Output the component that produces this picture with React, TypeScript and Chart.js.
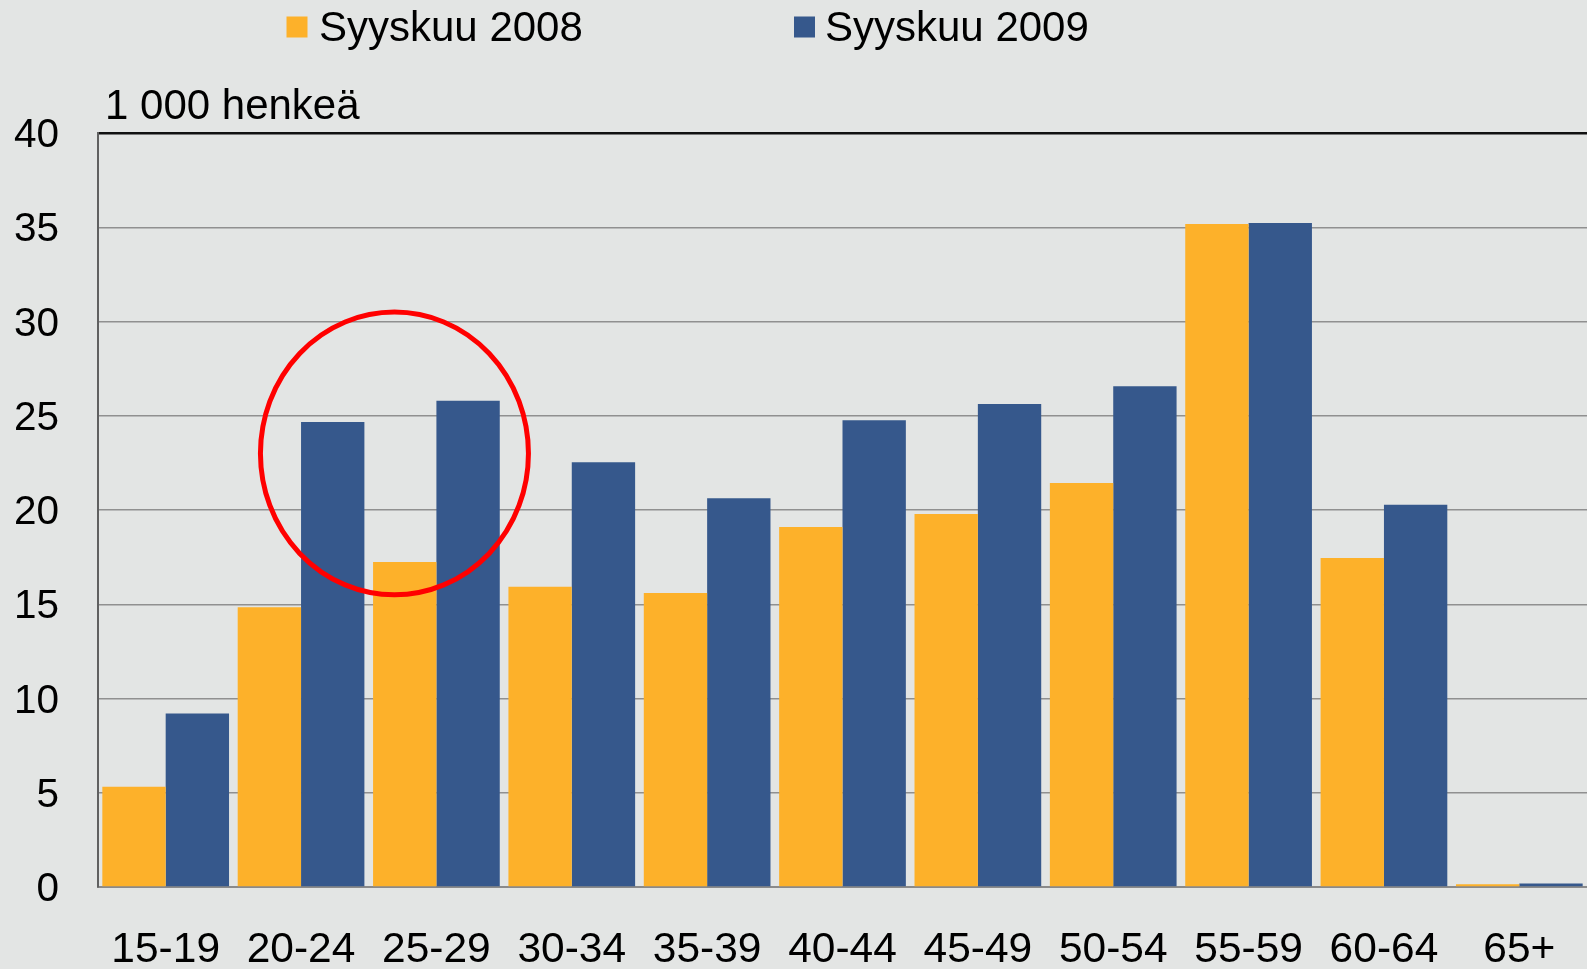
import React, { useEffect, useRef } from "react";
import { Chart, registerables } from "chart.js";

Chart.register(...registerables);

const categories = ["15-19", "20-24", "25-29", "30-34", "35-39", "40-44", "45-49", "50-54", "55-59", "60-64", "65+"];
const series2008 = [5.32, 14.84, 17.24, 15.93, 15.6, 19.1, 19.79, 21.43, 35.17, 17.45, 0.15];
const series2009 = [9.21, 24.67, 25.8, 22.53, 20.62, 24.76, 25.62, 26.56, 35.23, 20.28, 0.18];
const seriesLabels = ["Syyskuu 2008", "Syyskuu 2009"];
const seriesColors = ["#FDB12A", "#36588C"];
const yMin = 0;
const yMax = 40;
const yStep = 5;
const yAxisTitle = "1 000 henkeä";
// highlight ellipse, in data units (category index, value)
const highlightCenterX = 1.69;
const highlightCenterY = 23.0;
const highlightRadiusX = 0.99;
const highlightRadiusY = 7.5;

const FONT = "'Liberation Sans', Arial, sans-serif";

const overlayPlugin = {
  id: "overlay",
  afterDatasetsDraw(chart: any) {
    const ctx = chart.ctx;
    const xs = chart.scales.x;
    const ys = chart.scales.y;
    const cx = xs.getPixelForValue(highlightCenterX);
    const cy = ys.getPixelForValue(highlightCenterY);
    const rx = Math.abs(xs.getPixelForValue(highlightCenterX + highlightRadiusX) - cx);
    const ry = Math.abs(ys.getPixelForValue(highlightCenterY + highlightRadiusY) - cy);
    ctx.save();
    ctx.beginPath();
    ctx.ellipse(cx, cy, rx, ry, 0, 0, Math.PI * 2);
    ctx.strokeStyle = "#FF0000";
    ctx.lineWidth = 5;
    ctx.stroke();
    ctx.restore();
  },
  afterDraw(chart: any) {
    const ctx = chart.ctx;
    ctx.save();
    // legend
    const legendBoxX = [286.5, 794];
    const legendTextX = [319, 825];
    chart.data.datasets.forEach((ds: any, i: number) => {
      ctx.fillStyle = ds.backgroundColor;
      ctx.fillRect(legendBoxX[i], 16.5, 21, 21);
      ctx.fillStyle = "#000";
      ctx.font = `42px ${FONT}`;
      ctx.textBaseline = "alphabetic";
      ctx.textAlign = "left";
      ctx.fillText(ds.label, legendTextX[i], 40.5);
    });
    // y-axis unit title
    ctx.font = `42px ${FONT}`;
    ctx.fillStyle = "#000";
    ctx.textAlign = "left";
    ctx.textBaseline = "alphabetic";
    ctx.fillText(yAxisTitle, 105, 119);
    ctx.restore();
  },
};

export default function App() {
  const canvasRef = useRef<HTMLCanvasElement | null>(null);

  useEffect(() => {
    document.body.style.margin = "0";
    const canvas = canvasRef.current;
    if (!canvas) return;
    const chart = new Chart(canvas, {
      type: "bar",
      data: {
        labels: categories,
        datasets: [
          {
            label: seriesLabels[0],
            data: series2008,
            backgroundColor: seriesColors[0],
            borderWidth: 0,
            barPercentage: 1,
            categoryPercentage: 0.936,
          },
          {
            label: seriesLabels[1],
            data: series2009,
            backgroundColor: seriesColors[1],
            borderWidth: 0,
            barPercentage: 1,
            categoryPercentage: 0.936,
          },
        ],
      },
      options: {
        responsive: true,
        maintainAspectRatio: false,
        animation: false,
        devicePixelRatio: 1,
        layout: { padding: { top: 133, left: 0, right: 0, bottom: 0 } },
        plugins: {
          legend: { display: false },
          tooltip: { enabled: false },
          title: { display: false },
        },
        scales: {
          x: {
            grid: { display: false, drawTicks: false },
            border: { display: true, color: "#8a8a8a", width: 2 },
            ticks: {
              color: "#000",
              font: { family: FONT, size: 42.5 },
              padding: 38,
              maxRotation: 0,
              autoSkip: false,
            },
            afterFit(scale: any) {
              scale.height = 82;
              scale.paddingLeft = 0;
              scale.paddingRight = 0;
            },
          },
          y: {
            min: yMin,
            max: yMax,
            ticks: {
              stepSize: yStep,
              color: "#000",
              font: { family: FONT, size: 40.5 },
              padding: 39,
              labelOffset: 3,
            },
            grid: {
              drawTicks: false,
              color: (c: any) => (c.tick && c.tick.value === yMax ? "#111" : "#909090"),
              lineWidth: (c: any) => (c.tick && c.tick.value === yMax ? 2.5 : 1.5),
            },
            border: { display: true, color: "#606060", width: 2 },
            afterFit(scale: any) {
              scale.width = 98;
              scale.paddingTop = 0;
              scale.paddingBottom = 0;
            },
          },
        },
      },
      plugins: [overlayPlugin],
    });
    return () => chart.destroy();
  }, []);

  return (
    <div
      style={{
        position: "absolute",
        left: 0,
        top: 0,
        width: 1587,
        height: 969,
        background: "#E3E5E4",
      }}
    >
      <canvas ref={canvasRef} />
    </div>
  );
}
